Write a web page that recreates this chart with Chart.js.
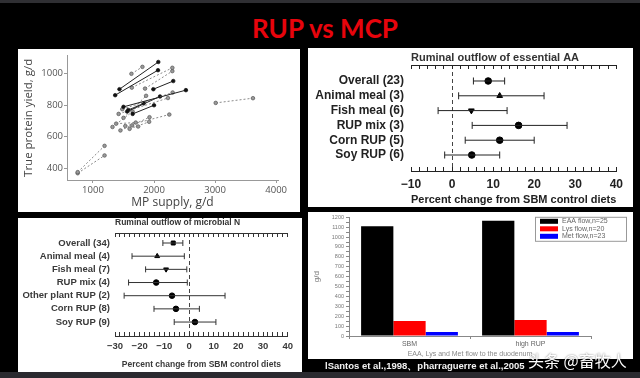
<!DOCTYPE html>
<html>
<head>
<meta charset="utf-8">
<script src="https://cdn.jsdelivr.net/npm/chart.js@4.4.1/dist/chart.umd.min.js"></script>
<style>
  body { margin: 0; background: #000; width: 640px; height: 378px; overflow: hidden; position: relative; }
  .panel { position: absolute; background: #fff; }
  .panel canvas { display: block; }
  #topbar { position: absolute; left: 0; top: 0; width: 640px; height: 3px; background: #2f2f33; }
  #bottombar { position: absolute; left: 0; top: 372px; width: 640px; height: 6px; background: #2a2a2f; }
  #title { position: absolute; left: 0; width: 640px; top: 12px; text-align: center; padding-left: 10px; box-sizing: border-box;
           font: bold 26px Lato, "Liberation Sans", sans-serif; color: #e8040c; }
  #cite { position: absolute; left: 325px; top: 360px; font: bold 9.5px "Liberation Sans", Arial, sans-serif; color: #f2f2f2; white-space: nowrap; }
  #mark { position: absolute; left: 528px; top: 348px; font: 16px "Noto Sans CJK SC", sans-serif; color: #fff;
          text-shadow: 0 0 2px rgba(0,0,0,0.6); white-space: nowrap; }
</style>
</head>
<body>
<div id="topbar"></div>
<div id="title">RUP vs MCP</div>
<div class="panel" style="left:18px;top:49px;width:282px;height:163px"><canvas id="mpChart" width="282" height="163"></canvas></div>
<div class="panel" style="left:308px;top:48px;width:325px;height:159px"><canvas id="aaChart" width="325" height="159"></canvas></div>
<div class="panel" style="left:18px;top:218px;width:284px;height:154px"><canvas id="mnChart" width="284" height="154"></canvas></div>
<div class="panel" style="left:308px;top:212px;width:325px;height:147px"><canvas id="flowChart" width="325" height="147"></canvas></div>
<div id="bottombar"></div>
<div id="cite">lSantos et al.,1998、pharraguerre et al.,2005</div>
<div id="mark">头条 @畜牧人</div>

<script>
// panel 1 : MP supply vs true protein yield (control -> treatment pairs)
const mpControl    = [ 750,  750, 1434, 1364, 1630, 1636, 1853, 1989, 1500, 1480, 1560, 1420, 1500, 1650, 1580, 1320, 1450, 1380, 1530, 1600, 1640, 3010];
const mpTreat      = [1190, 1190, 2070, 2065, 1810, 2300, 2300, 2315, 2522, 2305, 2098, 2228, 1870, 2000, 1830, 1650, 1926, 1700, 2250, 1920, 1740, 3620];
const yieldControl = [ 375,  368,  902,  864, 1000,  912,  906,  902,  790,  775,  760,  745,  720,  745,  770,  662,  640,  683,  668,  650,  672,  815];
const yieldTreat   = [ 542,  481, 1075, 1023, 1044, 1038, 1017,  954,  896,  881,  856,  846,  860,  800,  812,  760,  724,  690,  741,  695,  665,  845];
const solidPair    = [false, false, true, true, false, false, false, true, true, false, true, false, false, true, true, false, false, false, false, false, false, false];
const mpTicks      = [1000, 2000, 3000, 4000];
const yieldTicks   = [400, 600, 800, 1000];

// panel 2 : ruminal outflow of essential AA
const aaGroups = ['Overall (23)', 'Animal meal (3)', 'Fish meal (6)', 'RUP mix (3)', 'Corn RUP (5)', 'Soy RUP (6)'];
const aaMean   = [8.8, 11.6, 4.7, 16.2, 11.6, 4.8];
const aaLow    = [5.2, 1.6, -3.4, 4.9, 3.2, -1.8];
const aaHigh   = [12.8, 22.4, 13.4, 28.0, 20.0, 11.6];
const aaMarker = ['circle', 'triangle', 'triangle', 'circle', 'circle', 'circle'];
const aaRotate = [0, 0, 180, 0, 0, 0];

// panel 3 : ruminal outflow of microbial N
const mnGroups = ['Overall (34)', 'Animal meal (4)', 'Fish meal (7)', 'RUP mix (4)', 'Other plant RUP (2)', 'Corn RUP (8)', 'Soy RUP (9)'];
const mnMean   = [-6.4, -12.9, -9.3, -13.3, -6.9, -5.3, 2.4];
const mnLow    = [-10.6, -23.1, -17.6, -24.5, -26.3, -14.2, -6.0];
const mnHigh   = [-2.5, -1.9, -0.9, -0.7, 14.6, 4.2, 10.9];
const mnMarker = ['rect', 'triangle', 'triangle', 'circle', 'circle', 'circle', 'circle'];
const mnRotate = [0, 0, 180, 0, 0, 0, 0];

// panel 4 : EAA, Lys and Met flow to the duodenum
const dietLabels = ['SBM', 'high RUP'];
const eaaFlow = [1110, 1166];
const lysFlow = [151, 161];
const metFlow = [40, 40];
const flowNames  = ['EAA flow,n=25', 'Lys flow,n=20', 'Met flow,n=23'];
const flowColors = ['#000000', '#ff0000', '#0000ff'];

Chart.defaults.font.family = '"Liberation Sans", Arial, sans-serif';
Chart.defaults.animation = false;
Chart.defaults.responsive = false;
Chart.defaults.plugins.legend.display = false;
Chart.defaults.plugins.tooltip.enabled = false;

const minus = v => (v < 0 ? '\u2212' + (-v) : String(v));

// --- panel 1
new Chart(document.getElementById('mpChart'), {
  type: 'scatter',
  data: {
    datasets: mpControl.map((x0, i) => ({
      data: [{ x: x0, y: yieldControl[i] }, { x: mpTreat[i], y: yieldTreat[i] }],
      showLine: true,
      borderColor: solidPair[i] ? '#222' : '#8a8a8a',
      borderWidth: 1,
      borderDash: solidPair[i] ? [] : [2, 2],
      pointRadius: 1.8,
      pointBackgroundColor: solidPair[i] ? '#111' : '#9a9a9a',
      pointBorderColor: solidPair[i] ? '#111' : '#555',
      pointBorderWidth: 0.7
    }))
  },
  options: {
    layout: { padding: { top: 6, right: 22, left: 0, bottom: 0 } },
    scales: {
      x: {
        min: 575, max: 4030,
        afterBuildTicks: s => { s.ticks = mpTicks.map(v => ({ value: v })); },
        afterFit: s => { s.height = 32; },
        grid: { drawOnChartArea: false, tickLength: 3, color: '#999' },
        border: { color: '#999' },
        ticks: { color: '#555', padding: 2, callback: v => String(v), font: { family: '"Open Sans"', size: 9.5 } },
        title: { display: true, text: 'MP supply, g/d', color: '#444', padding: { top: 0, bottom: 2 }, font: { family: '"Open Sans"', size: 12 } }
      },
      y: {
        min: 325, max: 1115,
        afterBuildTicks: s => { s.ticks = yieldTicks.map(v => ({ value: v })); },
        afterFit: s => { s.width = 49; },
        grid: { drawOnChartArea: false, tickLength: 3, color: '#999' },
        border: { color: '#999' },
        ticks: { color: '#555', padding: 1, callback: v => String(v), font: { family: '"Open Sans"', size: 9.5 } },
        title: { display: true, text: 'True protein yield, g/d', color: '#444', padding: { top: 4, bottom: 0 }, font: { family: '"Open Sans"', size: 11.5 } }
      }
    }
  }
});

// forest plot builder for panels 2 and 3
function forest(id, groups, mean, low, high, marker, rotate, cfg) {
  const rows = groups.map((g, i) => i);
  const datasets = rows.map(i => ({
    data: [{ x: low[i], y: i }, { x: high[i], y: i }],
    showLine: true,
    borderColor: cfg.lineColor,
    borderWidth: 1,
    pointStyle: 'line',
    rotation: 90,
    pointRadius: cfg.cap,
    pointBorderColor: cfg.lineColor,
    pointBorderWidth: 1
  }));
  datasets.push({
    data: mean.map((m, i) => ({ x: m, y: i })),
    pointStyle: marker,
    rotation: rotate,
    pointRadius: cfg.dot,
    pointBackgroundColor: '#000',
    pointBorderColor: '#000'
  });
  const txt = { family: '"Liberation Sans", Arial, sans-serif', size: cfg.font, weight: 'bold' };
  return new Chart(document.getElementById(id), {
    type: 'scatter',
    data: { datasets },
    options: {
      layout: { padding: { top: 0, right: cfg.right, left: 0, bottom: 0 } },
      scales: {
        x: {
          position: 'bottom', min: cfg.min, max: 40,
          afterFit: s => { s.height = cfg.bottom; },
          ticks: { stepSize: 2, autoSkip: false, maxRotation: 0, padding: cfg.tickPad, color: cfg.text,
                   callback: v => (v % 10 === 0 ? minus(v) : ''), font: txt },
          grid: { color: c => (c.tick && c.tick.value === 0 ? '#444' : 'rgba(0,0,0,0)'),
                  tickColor: cfg.lineColor, tickLength: -4, lineWidth: 1 },
          border: { color: cfg.lineColor, dash: [4, 3] },
          title: { display: true, text: 'Percent change from SBM control diets', color: cfg.text,
                   padding: { top: 0, bottom: cfg.titlePad }, font: { ...txt, size: cfg.font - 1 } }
        },
        x2: {
          position: 'top', min: cfg.min, max: 40,
          afterFit: s => { s.height = cfg.top; },
          ticks: { stepSize: 2, display: false },
          grid: { color: 'rgba(0,0,0,0)', tickColor: cfg.lineColor, tickLength: -4 },
          border: { color: cfg.lineColor },
          title: { display: true, text: cfg.title, align: 'start', color: cfg.titleColor,
                   padding: { top: cfg.headPad, bottom: 0 }, font: { ...txt, size: cfg.font - 1 } }
        },
        y: {
          min: cfg.ymin, max: cfg.ymax, reverse: true,
          afterBuildTicks: s => { s.ticks = rows.map(v => ({ value: v })); },
          afterFit: s => { s.width = cfg.left; },
          ticks: { autoSkip: false, padding: cfg.labelPad, color: cfg.text, font: txt, callback: v => groups[v] },
          grid: { display: false, drawTicks: false },
          border: { display: false }
        }
      }
    }
  });
}

forest('aaChart', aaGroups, aaMean, aaLow, aaHigh, aaMarker, aaRotate, {
  title: 'Ruminal outflow of essential AA', min: -10, font: 12, text: '#222', titleColor: '#333', lineColor: '#222',
  left: 103, right: 13, top: 17, bottom: 36, ymin: -1.08, ymax: 6.08,
  labelPad: 7, tickPad: 10, titlePad: 0, headPad: 3, cap: 3.5, dot: 3.3
});

forest('mnChart', mnGroups, mnMean, mnLow, mnHigh, mnMarker, mnRotate, {
  title: 'Ruminal outflow of microbial N', min: -30, font: 9.5, text: '#3a3a3a', titleColor: '#333', lineColor: '#333',
  left: 97, right: 11, top: 15, bottom: 36, ymin: -0.76, ymax: 7.06,
  labelPad: 5, tickPad: 9, titlePad: 2, headPad: 0, cap: 3, dot: 2.8
});

// --- panel 4 legend drawn in a framed box at the upper right
const boxLegend = {
  id: 'boxLegend',
  afterDraw(chart) {
    const { ctx, chartArea } = chart;
    const x0 = chartArea.right - 56, y0 = chartArea.top - 0.5, w = 91, h = 24;
    ctx.save();
    ctx.strokeStyle = '#999';
    ctx.lineWidth = 1;
    ctx.strokeRect(x0 + 0.5, y0 + 0.5, w, h);
    ctx.font = '7px "Liberation Sans", Arial, sans-serif';
    ctx.textBaseline = 'middle';
    chart.data.datasets.forEach((ds, i) => {
      const cy = y0 + 4.5 + i * 7.5;
      ctx.fillStyle = ds.backgroundColor;
      ctx.fillRect(x0 + 5, cy - 2.5, 18, 5);
      ctx.fillStyle = '#666';
      ctx.fillText(ds.label, x0 + 27, cy);
    });
    ctx.restore();
  }
};

new Chart(document.getElementById('flowChart'), {
  type: 'bar',
  data: {
    labels: dietLabels,
    datasets: [eaaFlow, lysFlow, metFlow].map((vals, i) => ({
      label: flowNames[i],
      data: vals,
      backgroundColor: flowColors[i],
      categoryPercentage: 0.8,
      barPercentage: 1.0
    }))
  },
  options: {
    layout: { padding: { top: 5, right: 42, left: 0, bottom: 0 } },
    scales: {
      x: {
        afterFit: s => { s.height = 23; },
        grid: { drawOnChartArea: false, tickLength: 3, color: '#888' },
        border: { color: '#888' },
        ticks: { color: '#666', padding: 1, font: { size: 7 } },
        title: { display: true, text: 'EAA, Lys and Met flow to the duodenum', color: '#888', padding: { top: 0, bottom: 1 }, font: { size: 7 } }
      },
      y: {
        min: 0, max: 1200,
        afterFit: s => { s.width = 41; },
        grid: { drawOnChartArea: false, tickLength: 3, color: '#888' },
        border: { color: '#888' },
        ticks: { stepSize: 50, autoSkip: false, color: '#777', padding: 2, font: { size: 5.5 },
                 callback: v => (v % 100 === 0 ? v : '') },
        title: { display: true, text: 'g/d', color: '#777', padding: { top: 4, bottom: 0 }, font: { size: 8 } }
      }
    }
  },
  plugins: [boxLegend]
});
</script>
</body>
</html>
